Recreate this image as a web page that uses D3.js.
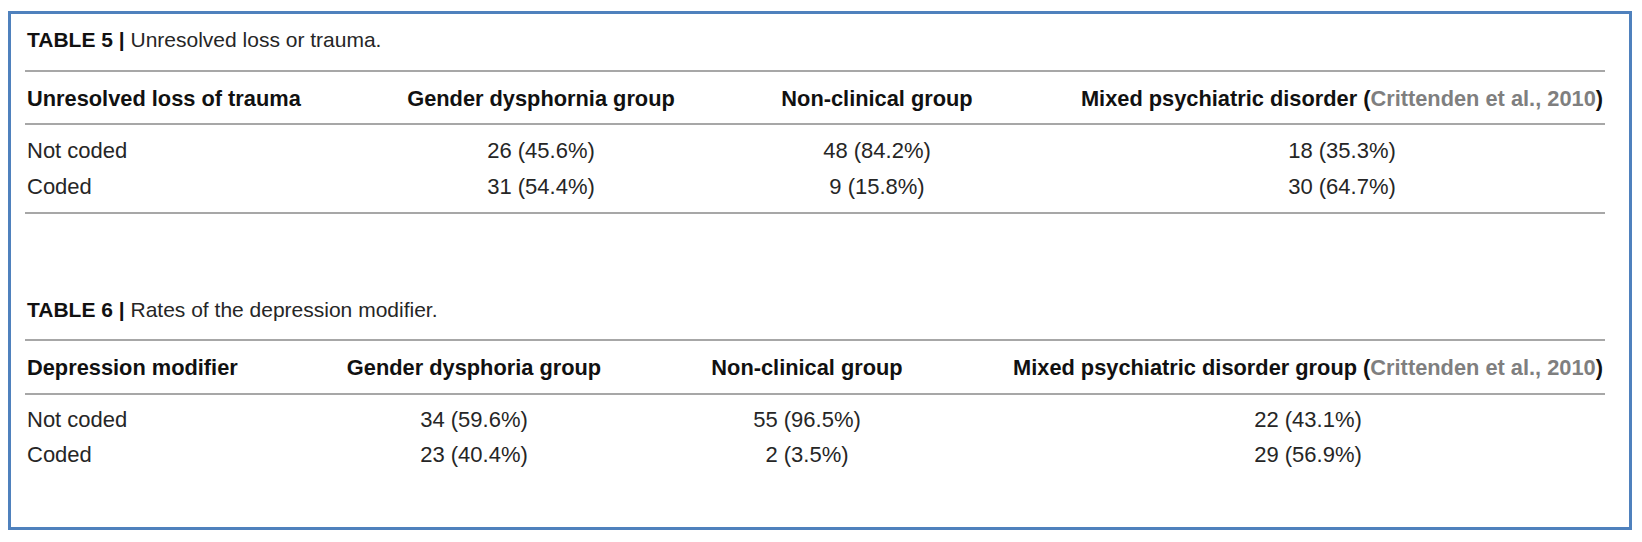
<!DOCTYPE html>
<html>
<head>
<meta charset="utf-8">
<script src="https://cdn.jsdelivr.net/npm/d3@7"></script>
<style>
  html, body { margin: 0; padding: 0; background: #ffffff; }
  svg { display: block; }
  text { font-family: "Liberation Sans", Arial, Helvetica, sans-serif; }
</style>
</head>
<body>
<svg id="chart" width="1642" height="542"></svg>
<script>
// ---------- DATA ----------
const table5Label = "TABLE 5";
const table5Caption = "Unresolved loss or trauma.";
const table5Headers = ["Unresolved loss of trauma", "Gender dysphornia group", "Non-clinical group", "Mixed psychiatric disorder"];
const table5Rows = ["Not coded", "Coded"];
const table5Gender = ["26 (45.6%)", "31 (54.4%)"];
const table5NonClinical = ["48 (84.2%)", "9 (15.8%)"];
const table5Mixed = ["18 (35.3%)", "30 (64.7%)"];

const table6Label = "TABLE 6";
const table6Caption = "Rates of the depression modifier.";
const table6Headers = ["Depression modifier", "Gender dysphoria group", "Non-clinical group", "Mixed psychiatric disorder group"];
const table6Rows = ["Not coded", "Coded"];
const table6Gender = ["34 (59.6%)", "23 (40.4%)"];
const table6NonClinical = ["55 (96.5%)", "2 (3.5%)"];
const table6Mixed = ["22 (43.1%)", "29 (56.9%)"];

const citation = "Crittenden et al., 2010";

// ---------- LAYOUT ----------
const svg = d3.select("#chart");
const FS_TITLE = 21, FS_HEAD = 21.8, FS_BODY = 22;
const dark = "#262626";
const ruleColor = "#8a8a8a";
const citeColor = "#7f7f7f";
const lineX0 = 25, lineX1 = 1605, textX = 27;

// outer border
svg.append("rect")
  .attr("x", 9.5).attr("y", 12.5)
  .attr("width", 1621).attr("height", 516)
  .attr("fill", "none")
  .attr("stroke", "#4f81bd")
  .attr("stroke-width", 3);

function drawTable(cfg) {
  const g = svg.append("g");
  // caption
  const cap = g.append("text")
    .attr("x", textX).attr("y", cfg.titleY)
    .attr("font-size", FS_TITLE).attr("fill", dark);
  cap.append("tspan").attr("font-weight", "bold").attr("fill", "#111").text(cfg.label + " | ");
  cap.append("tspan").text(cfg.caption);

  // rules
  const rules = [cfg.rule1, cfg.rule2, cfg.rule3].filter(v => v != null);
  g.selectAll("line.rule").data(rules).enter().append("line")
    .attr("class", "rule")
    .attr("x1", lineX0).attr("x2", lineX1)
    .attr("y1", d => d).attr("y2", d => d)
    .attr("stroke", ruleColor).attr("stroke-width", 1.6);

  // column scale (centers)
  const colX = d3.scaleOrdinal().domain([1, 2, 3]).range(cfg.colCenters);

  // headers
  cfg.headers.forEach((h, i) => {
    const t = g.append("text")
      .attr("y", cfg.headerY)
      .attr("font-size", FS_HEAD).attr("font-weight", "bold").attr("fill", "#111");
    if (i === 0) {
      t.attr("x", textX).attr("text-anchor", "start").text(h);
    } else if (i === 3) {
      t.attr("x", colX(i)).attr("text-anchor", "middle");
      t.append("tspan").text(h + " (");
      t.append("tspan").attr("fill", citeColor).text(citation);
      t.append("tspan").text(")");
    } else {
      t.attr("x", colX(i)).attr("text-anchor", "middle").text(h);
    }
  });

  // rows
  const rowY = d3.scalePoint().domain(cfg.rows).range([cfg.row1Y, cfg.row2Y]);
  g.selectAll("text.rowlabel").data(cfg.rows).enter().append("text")
    .attr("class", "rowlabel")
    .attr("x", textX).attr("y", d => rowY(d))
    .attr("font-size", FS_BODY).attr("fill", dark).text(d => d);

  [cfg.gender, cfg.nonClinical, cfg.mixed].forEach((vals, ci) => {
    g.selectAll("text.c" + ci).data(vals).enter().append("text")
      .attr("class", "c" + ci)
      .attr("x", colX(ci + 1))
      .attr("y", (d, i) => rowY(cfg.rows[i]))
      .attr("text-anchor", "middle")
      .attr("font-size", FS_BODY).attr("fill", dark).text(d => d);
  });
}

drawTable({
  label: table5Label, caption: table5Caption, headers: table5Headers,
  rows: table5Rows, gender: table5Gender, nonClinical: table5NonClinical, mixed: table5Mixed,
  titleY: 47, rule1: 71, headerY: 106, rule2: 124, row1Y: 158, row2Y: 194, rule3: 213,
  colCenters: [541, 877, 1342]
});

drawTable({
  label: table6Label, caption: table6Caption, headers: table6Headers,
  rows: table6Rows, gender: table6Gender, nonClinical: table6NonClinical, mixed: table6Mixed,
  titleY: 317, rule1: 340, headerY: 375, rule2: 394, row1Y: 427, row2Y: 462, rule3: null,
  colCenters: [474, 807, 1308]
});
</script>
</body>
</html>
